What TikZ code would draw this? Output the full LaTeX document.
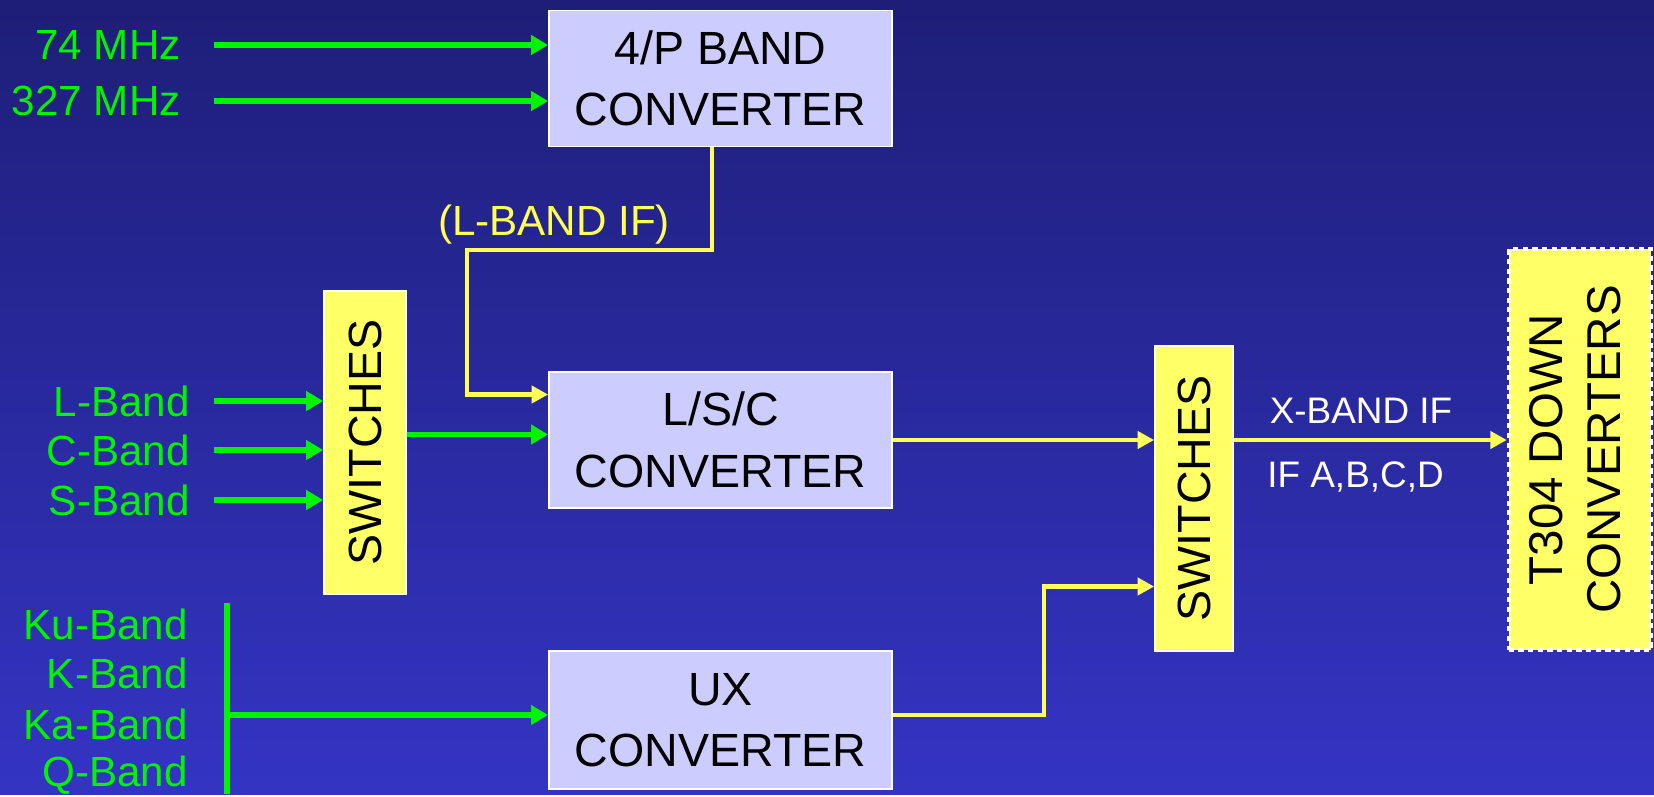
\documentclass[tikz,border=0pt]{standalone}
\usepackage{fontspec}
\setmainfont{Liberation Sans}
\usepackage{graphicx}
\usetikzlibrary{arrows.meta,positioning,calc}
\definecolor{bgtop}{HTML}{1E1E78}
\definecolor{bgbot}{HTML}{3434C4}
\definecolor{boxlav}{HTML}{CCCCFF}
\definecolor{swyel}{HTML}{FFFF66}
\definecolor{sigreen}{HTML}{00F400}
\definecolor{ifyel}{HTML}{FFFF55}

\begin{document}
\begin{tikzpicture}[
  conv/.style={rectangle,draw=white,line width=1pt,fill=boxlav,inner sep=0pt,
               minimum width=6.86cm,minimum height=2.72cm,align=center,
               font=\fontsize{26.5}{35}\selectfont},
  sw/.style={rectangle,draw=white,line width=1pt,fill=swyel,inner sep=0pt,
             font=\fontsize{26.5}{32}\selectfont},
  dc/.style={rectangle,draw=white,line width=2.2pt,dash pattern=on 3pt off 2.5pt,
             fill=swyel,inner sep=0pt,font=\fontsize{27}{33}\selectfont},
  glbl/.style={anchor=east,inner sep=0pt,text=sigreen,font=\fontsize{24}{28}\selectfont},
  wlbl/.style={inner sep=0pt,text=white,font=\fontsize{21}{25}\selectfont},
  garr/.style={sigreen,line width=3.2pt,-{Triangle[length=0.34cm,width=0.38cm]}},
  yarr/.style={ifyel,line width=2.5pt,-{Triangle[length=0.33cm,width=0.34cm]}}
]

% ---- Background ---------------------------------------------
\fill[top color=bgtop,bottom color=bgbot] (0,0) rectangle (33.08,-15.88);

% ---- Converters ---------------------------------------------
\node[conv] (conv4p)  at (14.41,-1.57)  {4/P BAND\\CONVERTER};
\node[conv] (convlsc) at (14.41,-8.80)  {L/S/C\\CONVERTER};
\node[conv,minimum height=2.76cm] (convux) at (14.41,-14.40) {UX\\CONVERTER};

% ---- Switches and down converters ---------------------------
\node[sw,minimum width=1.64cm,minimum height=6.06cm] (swl) at (7.30,-8.85)
  {\rotatebox{90}{SWITCHES}};
\node[sw,minimum width=1.56cm,minimum height=6.10cm] (swr) at (23.88,-9.97)
  {\rotatebox{90}{SWITCHES}};
\node[dc,minimum width=2.85cm,minimum height=8.02cm] (t304) at (31.60,-8.99)
  {\rotatebox{90}{\begin{tabular}{@{}c@{}}T304 DOWN\\CONVERTERS\end{tabular}}};

% ---- Low frequency inputs -----------------------------------
\node[glbl] (f74)  at (3.62,-0.90) {74 MHz};
\node[glbl] (f327) at (3.62,-2.02) {327 MHz};
\draw[garr] ([xshift=0.66cm]f74.east)  -- (f74.east -| conv4p.west);
\draw[garr] ([xshift=0.66cm]f327.east) -- (f327.east -| conv4p.west);

% ---- L, C, S inputs -----------------------------------------
\node[glbl] (bl) at (3.80,-8.02)  {L-Band};
\node[glbl] (bc) at (3.80,-9.00)  {C-Band};
\node[glbl] (bs) at (3.80,-10.00) {S-Band};
\foreach \b in {bl,bc,bs}
  \draw[garr] ([xshift=0.48cm]\b.east) -- (\b.east -| swl.west);
\draw[garr] ([yshift=0.16cm]swl.east) -- ([yshift=0.16cm]swl.east -| convlsc.west);

% ---- High frequency inputs ----------------------------------
\node[glbl] (bku) at (3.76,-12.49) {Ku-Band};
\node[glbl] (bk)  at (3.76,-13.46) {K-Band};
\node[glbl] (bka) at (3.76,-14.49) {Ka-Band};
\node[glbl] (bq)  at (3.76,-15.50) {Q-Band};
\coordinate (bustop) at (4.54,-12.06);
\coordinate (busbot) at (4.54,-15.88);
\draw[sigreen,line width=3.2pt] (bustop) -- (busbot);
\draw[garr] ([yshift=0.1cm]bustop |- convux.west) -- ([yshift=0.1cm]convux.west);

% ---- IF paths -----------------------------------------------
\coordinate (ifbend) at (9.34,-5.00);
\draw[yarr] ([xshift=-0.17cm]conv4p.south) |- (ifbend) |- ([yshift=0.91cm]convlsc.west);
\node[inner sep=0pt,text=ifyel,font=\fontsize{24}{28}\selectfont] (lbandif) at (11.08,-4.50) {(L-BAND IF)};

\draw[yarr] (convlsc.east) -- (convlsc.east -| swr.west);
\coordinate (uxbend) at (20.88,-11.73);
\draw[yarr] ([yshift=0.1cm]convux.east) -| (uxbend) -- (uxbend -| swr.west);

\draw[yarr] (swr.east |- convlsc.east) -- (t304.west |- convlsc.east);
\node[wlbl] (xbandif) at (27.22,-8.22) {X-BAND IF};
\node[wlbl] (ifabcd)  at (27.11,-9.54) {IF A,B,C,D};

\end{tikzpicture}
\end{document}
